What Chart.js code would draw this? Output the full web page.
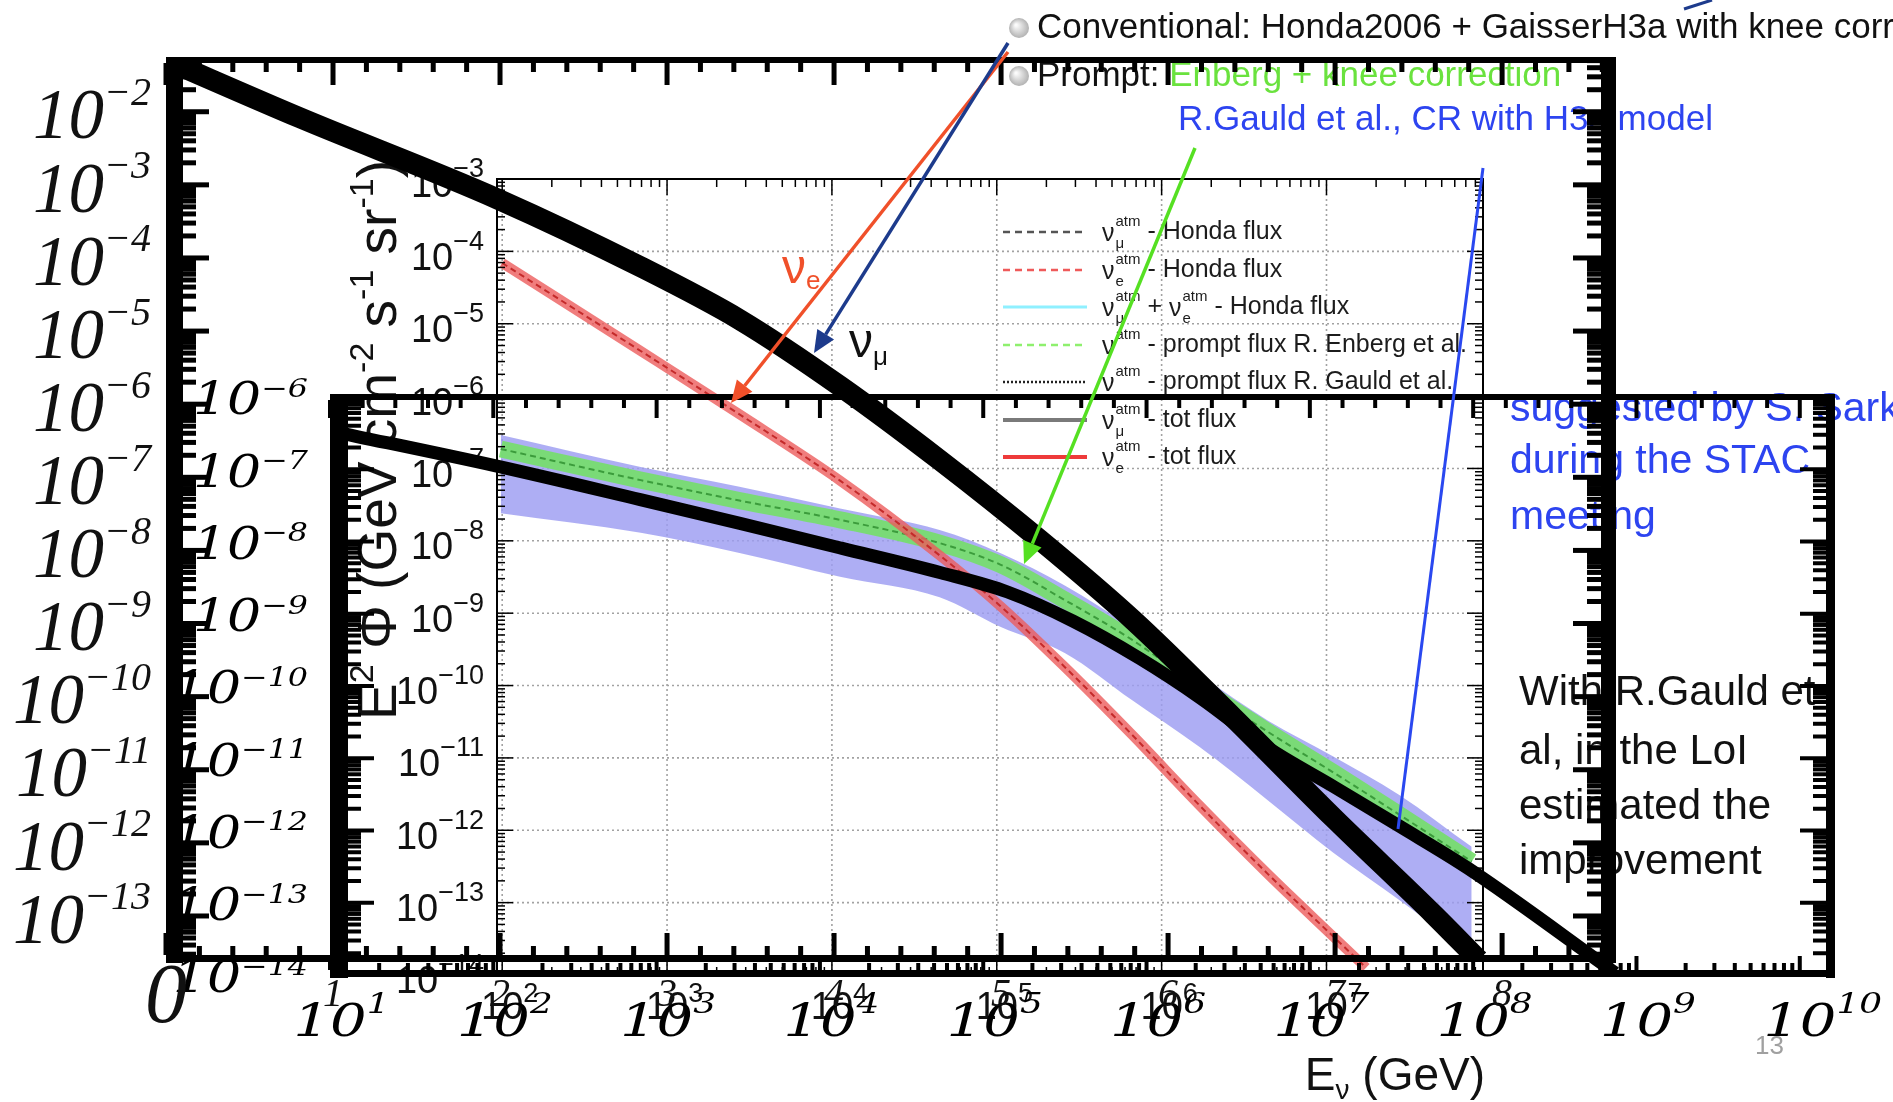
<!DOCTYPE html>
<html>
<head>
<meta charset="utf-8">
<script src="https://cdn.jsdelivr.net/npm/chart.js@4.4.1/dist/chart.umd.min.js"></script>
<style>
html, body { margin: 0; padding: 0; background: #fff; }
#wrap { position: relative; width: 1893px; height: 1102px; overflow: hidden; background: #fff; }
canvas { position: absolute; left: 0; top: 0; }
</style>
</head>
<body>
<div id="wrap">
  <canvas id="rootPlot" width="1893" height="1102"></canvas>
  <canvas id="midFrame" width="1893" height="1102"></canvas>
  <canvas id="outerFrame" width="1893" height="1102"></canvas>
</div>
<script>
// outer frame: x is log10(E/GeV) on a linear axis
const convLogE = [0, 0.80, 1.98, 2.84, 3.44, 4.04, 4.63, 5.23, 5.79, 6.39, 6.99, 7.59, 7.86];
const convFlux = [5.1e-2, 8.3e-3, 6.5e-4, 7.6e-5, 1.41e-5, 1.74e-6, 1.74e-7, 1.41e-8, 1.12e-9, 5.2e-11, 2.2e-12, 1.05e-13, 2.5e-14];

// middle frame
const muTotE = [10.7, 102, 794, 3.24e3, 1.35e4, 5.5e4, 1.41e5, 3.55e5, 9.1e5, 2.14e6, 5.5e6, 1.41e7, 3.6e7, 9.3e7, 7.4e8];
const muTotFlux = [3.3e-7, 1.12e-7, 3.8e-8, 1.78e-8, 8.1e-9, 3.7e-9, 2.0e-9, 7.9e-10, 2.4e-10, 6.8e-11, 1.41e-11, 4.0e-12, 1.12e-12, 3.0e-13, 1.07e-14];

// inner ROOT plot
const eTotE = [100, 692, 2.75e3, 1.12e4, 4.5e4, 1.05e5, 2.6e5, 6.6e5, 1.7e6, 4.4e6, 1.1e7, 1.74e7];
const eTotFlux = [6.9e-5, 4.2e-6, 5.6e-7, 6.8e-8, 6.3e-9, 1.26e-9, 1.78e-10, 2.1e-11, 2.2e-12, 2.5e-13, 3.4e-14, 1.26e-14];
const promptE = [98, 692, 2.75e3, 1.12e4, 4.5e4, 1.05e5, 2.6e5, 6.6e5, 1.7e6, 4.4e6, 1.1e7, 2.75e7, 7.6e7];
const enbergFlux = [1.86e-7, 6.9e-8, 3.6e-8, 1.95e-8, 9.3e-9, 4.7e-9, 1.51e-9, 4.3e-10, 9.5e-11, 2.3e-11, 6.3e-12, 1.66e-12, 3.7e-13];
const gauldHigh = [2.9e-7, 1.05e-7, 5.6e-8, 2.8e-8, 1.41e-8, 6.8e-9, 2.4e-9, 6.3e-10, 1.41e-10, 3.3e-11, 1.05e-11, 3.1e-12, 5.9e-13];
const gauldLow = [2.4e-8, 1.29e-8, 6.8e-9, 3.2e-9, 1.66e-9, 6.5e-10, 2.8e-10, 6.3e-11, 1.41e-11, 2.6e-12, 4.9e-13, 1.1e-13, 2.0e-14];

// tick labels (exponents)
const outerXTicks = [0, 1, 2, 3, 4, 5, 6, 7, 8];
const outerYTicks = [-2, -3, -4, -5, -6, -7, -8, -9, -10, -11, -12, -13];
const midXTicks = [1, 2, 3, 4, 5, 6, 7, 8, 9, 10];
const midYTicks = [-6, -7, -8, -9, -10, -11, -12, -13, -14];
const rootXTicks = [2, 3, 4, 5, 6, 7, 8];
const rootYTicks = [-3, -4, -5, -6, -7, -8, -9, -10, -11, -12, -13, -14];

const legendRows = [
  { color: '#555', dash: [7, 5], width: 2.5, parts: [['ν', 'μ'], ' - Honda flux'] },
  { color: '#ef5a5a', dash: [7, 5], width: 2.5, parts: [['ν', 'e'], ' - Honda flux'] },
  { color: '#8ff0ff', dash: [], width: 3, parts: [['ν', 'μ'], ' + ', ['ν', 'e'], ' - Honda flux'] },
  { color: '#8ef06e', dash: [7, 5], width: 2.5, parts: [['ν', ''], ' - prompt flux R. Enberg et al.'] },
  { color: '#222', dash: [2, 2], width: 2.5, parts: [['ν', ''], ' - prompt flux R. Gauld et al.'] },
  { color: '#7a7a7a', dash: [], width: 4, parts: [['ν', 'μ'], ' - tot flux'] },
  { color: '#ee3a3a', dash: [], width: 4, parts: [['ν', 'e'], ' - tot flux'] }
];

const pts = (xs, ys) => xs.map((x, i) => ({ x, y: ys[i] }));

function baseOptions(pad, xs, ys) {
  return {
    responsive: false,
    animation: false,
    devicePixelRatio: 1,
    events: [],
    layout: { padding: pad },
    plugins: { legend: { display: false }, tooltip: { enabled: false } },
    elements: { point: { radius: 0 } },
    scales: {
      x: Object.assign({ display: false }, xs),
      y: Object.assign({ display: false }, ys)
    }
  };
}

function logMarks(min, max) {
  const out = [];
  for (let d = Math.floor(Math.log10(min)); d <= Math.ceil(Math.log10(max)); d++) {
    for (let m = 1; m < 10; m++) {
      const v = m * Math.pow(10, d);
      if (v >= min * 0.999 && v <= max * 1.001) out.push({ v, major: m === 1 });
    }
  }
  return out;
}

function drawTicks(ctx, marks, toPx, fixed, dir, lenMaj, lenMin, horizontal) {
  marks.forEach(m => {
    const p = toPx(m.v);
    const len = m.major ? lenMaj : lenMin;
    ctx.beginPath();
    if (horizontal) { ctx.moveTo(p, fixed); ctx.lineTo(p, fixed + dir * len); }
    else { ctx.moveTo(fixed, p); ctx.lineTo(fixed + dir * len, p); }
    ctx.stroke();
  });
}

function powLabel(ctx, base, exp, x, y, o) {
  ctx.save();
  ctx.translate(x, y);
  ctx.scale(o.sx || 1, 1);
  ctx.font = o.font;
  const wb = ctx.measureText(base).width;
  ctx.font = o.expFont;
  const we = ctx.measureText(exp).width;
  const x0 = o.align === 'right' ? -(wb + we) : -wb / 2;
  ctx.fillStyle = o.color || '#000';
  ctx.textAlign = 'left';
  ctx.textBaseline = 'middle';
  ctx.font = o.font;
  ctx.fillText(base, x0, o.dy || 0);
  ctx.font = o.expFont;
  ctx.fillText(exp, x0 + wb, (o.dy || 0) - o.rise);
  ctx.restore();
}

function richText(ctx, parts, x, y, measureOnly) {
  let cx = x;
  parts.forEach(([t, f, dy]) => {
    ctx.font = f;
    if (!measureOnly) ctx.fillText(t, cx, y + (dy || 0));
    cx += ctx.measureText(t).width;
  });
  return cx - x;
}

function arrow(ctx, x1, y1, x2, y2, color, w, head) {
  const ang = Math.atan2(y2 - y1, x2 - x1);
  const hx = x2 - head * Math.cos(ang), hy = y2 - head * Math.sin(ang);
  ctx.strokeStyle = color;
  ctx.fillStyle = color;
  ctx.lineWidth = w;
  ctx.beginPath();
  ctx.moveTo(x1, y1);
  ctx.lineTo(head ? hx : x2, head ? hy : y2);
  ctx.stroke();
  if (head) {
    const s = head * 0.45;
    ctx.beginPath();
    ctx.moveTo(x2, y2);
    ctx.lineTo(hx + s * Math.sin(ang), hy - s * Math.cos(ang));
    ctx.lineTo(hx - s * Math.sin(ang), hy + s * Math.cos(ang));
    ctx.closePath();
    ctx.fill();
  }
}

function drawNotes(ctx) {
  [[1019, 28], [1019, 76]].forEach(([bx, by]) => {
    const g = ctx.createRadialGradient(bx - 3, by - 3, 1, bx, by, 10);
    g.addColorStop(0, '#fbfbfb');
    g.addColorStop(1, '#b2b2b2');
    ctx.fillStyle = g;
    ctx.beginPath();
    ctx.arc(bx, by, 10, 0, Math.PI * 2);
    ctx.fill();
  });
  ctx.textAlign = 'left';
  ctx.textBaseline = 'middle';
  ctx.font = '35px "Liberation Sans"';
  ctx.fillStyle = '#111';
  ctx.fillText('Conventional: Honda2006 + GaisserH3a with knee correction', 1037, 28);
  ctx.fillText('Prompt: ', 1037, 76);
  const wp = ctx.measureText('Prompt: ').width;
  ctx.fillStyle = '#6ae23e';
  ctx.fillText('Enberg + knee correction', 1037 + wp, 76);
  ctx.fillStyle = '#2d44f0';
  ctx.fillText('R.Gauld et al., CR with H3a model', 1178, 120);
  ctx.font = '41px "Liberation Sans"';
  ['suggested by S. Sarkar', 'during the STAC', 'meeting'].forEach((t, i) => ctx.fillText(t, 1510, [410, 462, 518][i]));
  ctx.fillStyle = '#111';
  ctx.font = '42px "Liberation Sans"';
  ['With R.Gauld et', 'al, in the LoI', 'estimated the', 'improvement'].forEach((t, i) => ctx.fillText(t, 1519, [693, 752, 807, 862][i]));
  ctx.fillStyle = '#a0a0a0';
  ctx.font = '26px "Liberation Sans"';
  ctx.fillText('13', 1755, 1047);
}

function drawLegend(ctx) {
  const F = '25px "Liberation Sans"', S = '15px "Liberation Sans"';
  const rows = [232, 270, 307, 345, 382, 420, 457];
  legendRows.forEach((r, i) => {
    const y = rows[i];
    ctx.save();
    ctx.strokeStyle = r.color;
    ctx.lineWidth = r.width;
    ctx.setLineDash(r.dash);
    ctx.beginPath();
    ctx.moveTo(1003, y);
    ctx.lineTo(1087, y);
    ctx.stroke();
    ctx.restore();
    ctx.fillStyle = '#1c1c1c';
    ctx.textBaseline = 'middle';
    ctx.textAlign = 'left';
    let cx = 1102;
    r.parts.forEach(p => {
      if (typeof p === 'string') {
        ctx.font = F;
        ctx.fillText(p, cx, y);
        cx += ctx.measureText(p).width;
      } else {
        ctx.font = F;
        ctx.fillText(p[0], cx, y + 2);
        cx += ctx.measureText(p[0]).width + 1;
        ctx.font = S;
        ctx.fillText('atm', cx, y - 10);
        if (p[1]) ctx.fillText(p[1], cx, y + 12);
        cx += ctx.measureText('atm').width;
      }
    });
  });
}

const rootPlugin = {
  id: 'rootPlot',
  beforeDatasetsDraw(chart) {
    const { ctx, chartArea: a, scales: { x, y } } = chart;
    ctx.save();
    ctx.strokeStyle = '#a2a2a2';
    ctx.lineWidth = 1.6;
    ctx.setLineDash([2, 3]);
    rootXTicks.forEach(e => {
      const px = x.getPixelForValue(Math.pow(10, e));
      if (px > a.left + 1 && px < a.right - 1) {
        ctx.beginPath(); ctx.moveTo(px, a.top); ctx.lineTo(px, a.bottom); ctx.stroke();
      }
    });
    rootYTicks.forEach(e => {
      const py = y.getPixelForValue(Math.pow(10, e));
      if (py > a.top + 1 && py < a.bottom - 1) {
        ctx.beginPath(); ctx.moveTo(a.left, py); ctx.lineTo(a.right, py); ctx.stroke();
      }
    });
    ctx.restore();
  },
  afterDatasetsDraw(chart) {
    const { ctx, chartArea: a, scales: { x, y } } = chart;
    ctx.save();
    ctx.strokeStyle = '#000';
    ctx.lineWidth = 2;
    ctx.strokeRect(a.left, a.top, a.right - a.left, a.bottom - a.top);
    ctx.lineWidth = 1.5;
    const xm = logMarks(x.min, x.max), ym = logMarks(y.min, y.max);
    drawTicks(ctx, xm, v => x.getPixelForValue(v), a.bottom, -1, 16, 8, true);
    drawTicks(ctx, xm, v => x.getPixelForValue(v), a.top, 1, 16, 8, true);
    drawTicks(ctx, ym, v => y.getPixelForValue(v), a.left, 1, 16, 8, false);
    drawTicks(ctx, ym, v => y.getPixelForValue(v), a.right, -1, 16, 8, false);

    const lab = { font: '38px "Liberation Sans"', expFont: '27px "Liberation Sans"', color: '#111' };
    rootYTicks.forEach(e => {
      const py = y.getPixelForValue(Math.pow(10, e));
      powLabel(ctx, '10', '−' + (-e), a.left - 13, py, Object.assign({ align: 'right', dy: 8, rise: 17 }, lab));
    });
    rootXTicks.forEach(e => {
      const v = Math.pow(10, e);
      if (v < x.min || v > x.max) return;
      powLabel(ctx, '10', String(e), x.getPixelForValue(v), a.bottom + 34, Object.assign({ align: 'center', dy: 0, rise: 14 }, lab));
    });

    // axis titles
    ctx.fillStyle = '#111';
    ctx.textBaseline = 'alphabetic';
    ctx.textAlign = 'left';
    const F = '55px "Liberation Sans"', S = '34px "Liberation Sans"';
    const yTitle = [['E', F], ['2', S, -23], [' Φ (GeV cm', F], ['-2', S, -23], [' s', F], ['-1', S, -23], [' sr', F], ['-1', S, -23], [')', F]];
    const wy = richText(ctx, yTitle, 0, 0, true);
    ctx.save();
    ctx.translate(396, 440 + wy / 2);
    ctx.rotate(-Math.PI / 2);
    richText(ctx, yTitle, 0, 0);
    ctx.restore();
    const xTitle = [['E', '46px "Liberation Sans"'], ['ν', '28px "Liberation Sans"', 9], [' (GeV)', '46px "Liberation Sans"']];
    const wx = richText(ctx, xTitle, 0, 0, true);
    richText(ctx, xTitle, a.right + 2 - wx, 1090);

    drawLegend(ctx);
    drawNotes(ctx);
    ctx.restore();
  }
};

const midPlugin = {
  id: 'midFrame',
  afterDatasetsDraw(chart) {
    const { ctx, chartArea: a, scales: { x, y } } = chart;
    const w = a.right - a.left, h = a.bottom - a.top;
    ctx.save();
    ctx.fillStyle = '#000';
    ctx.strokeStyle = '#000';
    ctx.fillRect(a.left, a.top - 3, 18, h + 6);
    ctx.fillRect(a.left, a.top - 3, w, 6);
    ctx.fillRect(a.right - 8, a.top - 3, 9, h + 6);
    ctx.fillRect(a.left, a.bottom - 5, w + 1, 7);
    ctx.lineWidth = 4;
    const ym = logMarks(y.min, y.max);
    drawTicks(ctx, ym, v => y.getPixelForValue(v), a.left + 18, 1, 26, 13, false);
    drawTicks(ctx, ym, v => y.getPixelForValue(v), a.right - 8, -1, 26, 13, false);
    const even = [];
    for (let k = 0; 1 + k * 0.2 <= Math.log10(x.max); k++) even.push({ v: Math.pow(10, 1 + k * 0.2), major: k % 5 === 0 });
    drawTicks(ctx, even, v => x.getPixelForValue(v), a.top + 3, 1, 18, 8, true);
    drawTicks(ctx, logMarks(x.min, x.max), v => x.getPixelForValue(v), a.bottom - 5, -1, 14, 7, true);

    const lab = { font: 'italic 44px "DejaVu Serif"', expFont: 'italic 26px "DejaVu Serif"', sx: 1.22 };
    midYTicks.forEach(e => {
      powLabel(ctx, '10', '−' + (-e), 308, y.getPixelForValue(Math.pow(10, e)), Object.assign({ align: 'right', dy: 6, rise: 13 }, lab));
    });
    midXTicks.forEach(e => {
      powLabel(ctx, '10', String(e), x.getPixelForValue(Math.pow(10, e)), 1024,
        { font: 'italic 45px "DejaVu Serif"', expFont: 'italic 28px "DejaVu Serif"', sx: 1.28, align: 'center', dy: 0, rise: 18 });
    });
    ctx.restore();
  }
};

const outerPlugin = {
  id: 'outerFrame',
  afterDatasetsDraw(chart) {
    const { ctx, chartArea: a, scales: { x, y } } = chart;
    const w = a.right - a.left, h = a.bottom - a.top;
    ctx.save();
    ctx.fillStyle = '#000';
    ctx.strokeStyle = '#000';
    ctx.fillRect(a.left, a.top - 3, 17, h + 6);
    ctx.fillRect(a.left, a.top - 3, w, 6);
    ctx.fillRect(a.right - 13, a.top - 3, 15, h + 6);
    ctx.fillRect(a.left, a.bottom - 5, w + 2, 7);
    ctx.lineWidth = 5;
    const ym = logMarks(y.min, y.max);
    drawTicks(ctx, ym, v => y.getPixelForValue(v), a.left + 17, 1, 26, 13, false);
    drawTicks(ctx, ym, v => y.getPixelForValue(v), a.right - 13, -1, 28, 14, false);
    const xm = [];
    for (let k = 0; k * 0.2 <= x.max; k++) xm.push({ v: k * 0.2, major: k % 5 === 0 });
    drawTicks(ctx, xm, v => x.getPixelForValue(v), a.top + 3, 1, 22, 9, true);
    drawTicks(ctx, xm, v => x.getPixelForValue(v), a.bottom - 5, -1, 22, 9, true);

    outerYTicks.forEach(e => {
      powLabel(ctx, '10', '−' + (-e), 151, y.getPixelForValue(Math.pow(10, e)),
        { font: 'italic 71px "Liberation Serif"', expFont: 'italic 40px "Liberation Serif"', align: 'right', dy: 8, rise: 25, color: '#111' });
    });
    ctx.fillStyle = '#111';
    ctx.textAlign = 'center';
    ctx.textBaseline = 'middle';
    outerXTicks.forEach((v, i) => {
      ctx.font = i === 0 ? 'italic 84px "Liberation Serif"' : 'italic 40px "Liberation Serif"';
      ctx.fillText(String(v), x.getPixelForValue(v), i === 0 ? 1000 : 995);
    });

    // arrows and their labels
    arrow(ctx, 1008, 52, 731, 403, '#f0502a', 3.5, 22);
    arrow(ctx, 1008, 43, 814, 353, '#1d3b8c', 3.5, 22);
    arrow(ctx, 1195, 148, 1024, 564, '#55e022', 3.5, 22);
    arrow(ctx, 1483, 168, 1398, 829, '#2a48f0', 3, 0);
    arrow(ctx, 1684, 9, 1712, 0, '#1d3b8c', 3, 0);
    ctx.textAlign = 'left';
    ctx.fillStyle = '#f0502a';
    ctx.font = '48px "Liberation Sans"';
    ctx.fillText('ν', 782, 270);
    ctx.font = '26px "Liberation Sans"';
    ctx.fillText('e', 806, 282);
    ctx.fillStyle = '#111';
    ctx.font = '48px "Liberation Sans"';
    ctx.fillText('ν', 849, 344);
    ctx.font = '26px "Liberation Sans"';
    ctx.fillText('μ', 873, 358);
    ctx.restore();
  }
};

// inner ROOT plot
new Chart(document.getElementById('rootPlot'), {
  type: 'line',
  data: {
    datasets: [
      { data: pts(eTotE, eTotFlux), borderColor: '#c42a2a', borderWidth: 2, borderDash: [6, 4], cubicInterpolationMode: 'monotone', fill: false },
      { data: pts(eTotE, eTotFlux), borderColor: 'rgba(236,92,92,0.8)', borderWidth: 10, cubicInterpolationMode: 'monotone', fill: false },
      { data: pts(promptE, enbergFlux), borderColor: '#3c9c3c', borderWidth: 2, borderDash: [6, 4], cubicInterpolationMode: 'monotone', fill: false },
      { data: pts(promptE, enbergFlux), borderColor: 'rgba(118,222,108,0.92)', borderWidth: 17, cubicInterpolationMode: 'monotone', fill: false },
      { data: pts(promptE, gauldLow), borderWidth: 0, borderColor: 'rgba(0,0,0,0)', backgroundColor: 'rgba(156,156,242,0.82)', cubicInterpolationMode: 'monotone', fill: '+1' },
      { data: pts(promptE, gauldHigh), borderWidth: 0, borderColor: 'rgba(0,0,0,0)', cubicInterpolationMode: 'monotone', fill: false }
    ]
  },
  options: baseOptions({ left: 497, top: 179, right: 1893 - 1483, bottom: 1102 - 975 },
    { type: 'logarithmic', min: 93, max: 8.9e7 },
    { type: 'logarithmic', min: 1e-14, max: 1e-3 }),
  plugins: [rootPlugin]
});

// middle frame
new Chart(document.getElementById('midFrame'), {
  type: 'line',
  data: {
    datasets: [
      { data: pts(muTotE, muTotFlux), borderColor: '#000', borderWidth: 13, cubicInterpolationMode: 'monotone', fill: false }
    ]
  },
  options: baseOptions({ left: 330, top: 397, right: 1893 - 1834, bottom: 1102 - 975 },
    { type: 'logarithmic', min: 10, max: 1.62e10 },
    { type: 'logarithmic', min: 1e-14, max: 1e-6 }),
  plugins: [midPlugin]
});

// outer frame
new Chart(document.getElementById('outerFrame'), {
  type: 'line',
  data: {
    datasets: [
      { data: pts(convLogE, convFlux), borderColor: '#000', borderWidth: 21, cubicInterpolationMode: 'monotone', fill: false,
        pointStyle: 'star', pointRadius: c => (c.dataIndex === 0 ? 13 : 0), pointBorderWidth: 5, pointBorderColor: '#000' }
    ]
  },
  options: baseOptions({ left: 166, top: 60, right: 1893 - 1614, bottom: 1102 - 960 },
    { type: 'linear', min: 0, max: 8.67 },
    { type: 'logarithmic', min: 2.5e-14, max: 5.1e-2 }),
  plugins: [outerPlugin]
});
</script>
</body>
</html>
